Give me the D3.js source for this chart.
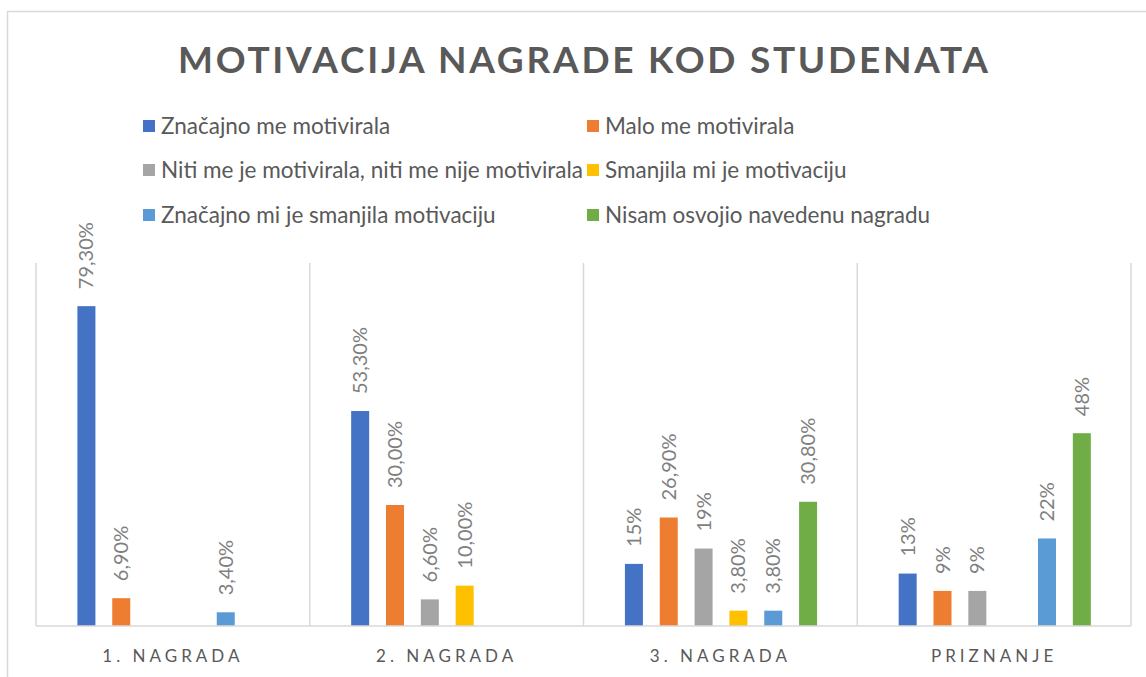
<!DOCTYPE html>
<html>
<head>
<meta charset="utf-8">
<script src="https://cdn.jsdelivr.net/npm/d3@7"></script>
<style>
  body { margin: 0; background: #ffffff; }
  text { font-family: Lato, "Open Sans", sans-serif; }
</style>
</head>
<body>
<script>
var categories = ["1. NAGRADA", "2. NAGRADA", "3. NAGRADA", "PRIZNANJE"];
var seriesNames = ["Značajno me motivirala", "Malo me motivirala",
                   "Niti me je motivirala, niti me nije motivirala", "Smanjila mi je motivaciju",
                   "Značajno mi je smanjila motivaciju", "Nisam osvojio navedenu nagradu"];
var seriesColors = ["#4472C4", "#ED7D31", "#A5A5A5", "#FFC000", "#5B9BD5", "#70AD47"];

// one array per category, value in percent (null = no bar)
var nagrada1 = [79.3, 6.9, null, null, 3.4, null];
var nagrada2 = [53.3, 30.0, 6.6, 10.0, null, null];
var nagrada3 = [15.4, 26.9, 19.2, 3.8, 3.8, 30.8];
var priznanje = [13, 8.7, 8.7, null, 21.7, 47.8];

var labels1 = ["79,30%", "6,90%", "", "", "3,40%", ""];
var labels2 = ["53,30%", "30,00%", "6,60%", "10,00%", "", ""];
var labels3 = ["15%", "26,90%", "19%", "3,80%", "3,80%", "30,80%"];
var labels4 = ["13%", "9%", "9%", "", "22%", "48%"];

var values = [nagrada1, nagrada2, nagrada3, priznanje];
var labels = [labels1, labels2, labels3, labels4];

var width = 1146, height = 677;

var svg = d3.select("body").append("svg")
            .attr("width", width)
            .attr("height", height);

// chart border
svg.append("rect")
   .attr("x", 7.5).attr("y", 11.5)
   .attr("width", 1160).attr("height", 700)
   .attr("fill", "white")
   .attr("stroke", "#d9d9d9")
   .attr("stroke-width", 1.5);

// title
svg.append("text")
   .attr("x", 583).attr("y", 73)
   .attr("text-anchor", "middle")
   .attr("font-size", 37)
   .attr("font-weight", "bold")
   .attr("fill", "#595959")
   .attr("textLength", 810)
   .attr("lengthAdjust", "spacing")
   .text("MOTIVACIJA NAGRADE KOD STUDENATA");

// legend, 2 columns x 3 rows
var legendX = [143, 587];
var legendY = [126, 170, 215];
var legend = svg.selectAll(".legend")
                .data(seriesNames)
                .enter()
                .append("g")
                .attr("class", "legend")
                .attr("transform", function (d, i) {
                  return "translate(" + legendX[i % 2] + "," + legendY[Math.floor(i / 2)] + ")";
                });
legend.append("rect")
      .attr("x", 0).attr("y", -6)
      .attr("width", 12).attr("height", 12)
      .attr("fill", function (d, i) { return seriesColors[i]; });
legend.append("text")
      .attr("x", 18).attr("y", 0)
      .attr("dy", "0.35em")
      .attr("font-size", 22.5)
      .attr("fill", "#595959")
      .text(function (d) { return d; });

// scales
var x0 = d3.scaleBand()
           .domain(categories)
           .range([36, 1131]);
var x1 = d3.scaleBand()
           .domain(d3.range(seriesNames.length))
           .range([33, 242]);
var y = d3.scaleLinear()
          .domain([0, 90])
          .range([626, 263]);
var barW = 18;

// category separators
var seps = categories.map(function (c) { return x0(c); }).concat([x0.range()[1]]);
svg.selectAll(".sep")
   .data(seps)
   .enter()
   .append("line")
   .attr("x1", function (d) { return d; })
   .attr("x2", function (d) { return d; })
   .attr("y1", y(90))
   .attr("y2", y(0))
   .attr("stroke", "#d9d9d9")
   .attr("stroke-width", 1.5);

// bars and labels
var groups = svg.selectAll(".cat")
                .data(categories)
                .enter()
                .append("g")
                .attr("class", "cat")
                .attr("transform", function (d) { return "translate(" + x0(d) + ",0)"; });

groups.selectAll("rect")
      .data(function (d, ci) {
        return values[ci].map(function (v, si) { return { s: si, v: v, lab: labels[ci][si] }; })
                         .filter(function (o) { return o.v !== null; });
      })
      .enter()
      .append("rect")
      .attr("x", function (d) { return x1(d.s) + x1.bandwidth() / 2 - barW / 2; })
      .attr("y", function (d) { return y(d.v); })
      .attr("width", barW)
      .attr("height", function (d) { return y(0) - y(d.v); })
      .attr("fill", function (d) { return seriesColors[d.s]; });

groups.selectAll(".lab")
      .data(function (d, ci) {
        return values[ci].map(function (v, si) { return { s: si, v: v, lab: labels[ci][si] }; })
                         .filter(function (o) { return o.v !== null; });
      })
      .enter()
      .append("text")
      .attr("class", "lab")
      .attr("transform", function (d) {
        var cx = x1(d.s) + x1.bandwidth() / 2;
        return "translate(" + cx + "," + (y(d.v) - 17) + ") rotate(-90)";
      })
      .attr("dy", "0.35em")
      .attr("font-size", 20)
      .attr("fill", "#7f7f7f")
      .text(function (d) { return d.lab; });

// baseline
svg.append("line")
   .attr("x1", 36).attr("x2", 1131)
   .attr("y1", y(0)).attr("y2", y(0))
   .attr("stroke", "#d9d9d9")
   .attr("stroke-width", 1.5);

// category labels
svg.selectAll(".catlab")
   .data(categories)
   .enter()
   .append("text")
   .attr("class", "catlab")
   .attr("x", function (d) { return x0(d) + x0.bandwidth() / 2; })
   .attr("y", 662)
   .attr("text-anchor", "middle")
   .attr("font-size", 17)
   .attr("letter-spacing", 4)
   .attr("fill", "#595959")
   .text(function (d) { return d; });
</script>
</body>
</html>
